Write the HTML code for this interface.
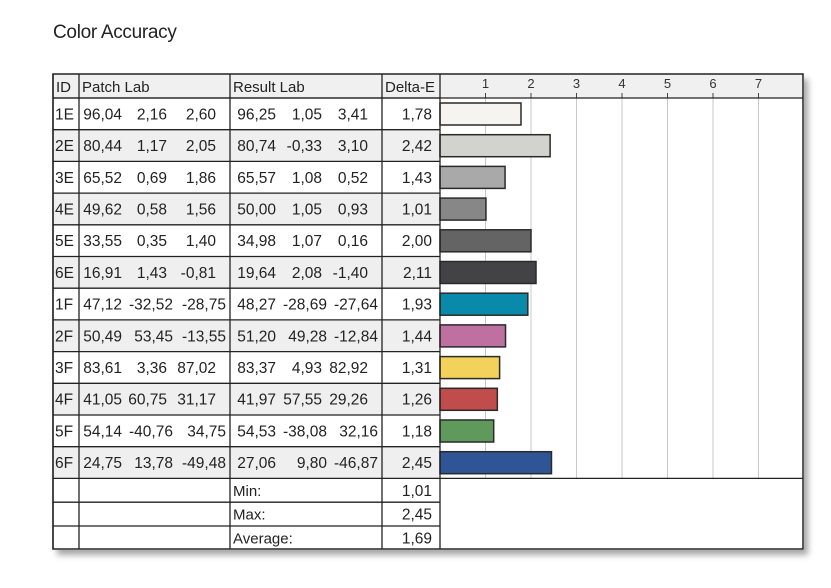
<!DOCTYPE html>
<html><head><meta charset="utf-8">
<style>
html,body{margin:0;padding:0;background:#fff;}
body{width:831px;height:588px;overflow:hidden;position:relative;font-family:"Liberation Sans",sans-serif;}
#title{position:absolute;left:53px;top:22px;font-size:19px;color:#222;letter-spacing:-0.3px;}
#wrap{position:absolute;left:53px;top:74px;width:751px;height:476px;box-shadow:4px 5px 6px rgba(0,0,0,0.35);}
svg{position:absolute;left:0;top:0;}
</style></head>
<body>
<div id="title">Color Accuracy</div>
<div id="wrap"></div>
<svg id="chart" width="831" height="588"></svg>
<script>
const ids = ["1E","2E","3E","4E","5E","6E","1F","2F","3F","4F","5F","6F"];
const patchLab = [["96,04","2,16","2,60"],["80,44","1,17","2,05"],["65,52","0,69","1,86"],["49,62","0,58","1,56"],["33,55","0,35","1,40"],["16,91","1,43","-0,81"],["47,12","-32,52","-28,75"],["50,49","53,45","-13,55"],["83,61","3,36","87,02"],["41,05","60,75","31,17"],["54,14","-40,76","34,75"],["24,75","13,78","-49,48"]];
const resultLab = [["96,25","1,05","3,41"],["80,74","-0,33","3,10"],["65,57","1,08","0,52"],["50,00","1,05","0,93"],["34,98","1,07","0,16"],["19,64","2,08","-1,40"],["48,27","-28,69","-27,64"],["51,20","49,28","-12,84"],["83,37","4,93","82,92"],["41,97","57,55","29,26"],["54,53","-38,08","32,16"],["27,06","9,80","-46,87"]];
const deltaE = [1.78,2.42,1.43,1.01,2.00,2.11,1.93,1.44,1.31,1.26,1.18,2.45];
const patchColors = ["#f6f4f1","#d2d2ce","#a9a9a9","#878787","#646464","#434244","#0a8aaa","#c070a0","#f2d25a","#c04c4c","#5f9a5c","#2f5597"];
const summaryLabels = ["Min:","Max:","Average:"];
const summaryValues = ["1,01","2,45","1,69"];
const ticks = [1,2,3,4,5,6,7];

const svg = document.getElementById('chart');
const NS = 'http://www.w3.org/2000/svg';
function mk(tag, attrs, parent){const e=document.createElementNS(NS,tag);for(const k in attrs)e.setAttribute(k,attrs[k]);(parent||svg).appendChild(e);return e;}
const L=53,R=803,T=74,HB=98,RH=31.7,SH=23.8;
const cols=[53,79,230,382,440];
const x0=440, ux=45.5;
function xs(v){return x0+v*ux;}
function rowTop(i){return HB+i*RH;}
const rowsBottom = rowTop(ids.length);
const fmt=v=>v.toFixed(2).replace('.',',');
const FF='Liberation Sans, sans-serif';

mk('rect',{x:L,y:T,width:R-L,height:549-T,fill:'#fff'});
const hb=mk('rect',{x:L,y:T,width:R-L,height:HB-T,fill:'#f0f0f0'});


ids.forEach((id,i)=>{ if(i%2===1){ mk('rect',{x:L,y:rowTop(i),width:x0-L,height:RH,fill:'#efefef'}); } });

ticks.forEach(t=>{
  const g=mk('line',{x1:xs(t),x2:xs(t),y1:HB,y2:rowsBottom,stroke:'#c8c8c8','stroke-width':1});
  
  
  mk('line',{x1:xs(t),x2:xs(t),y1:HB-5,y2:HB,stroke:'#444','stroke-width':1});
  const tx=mk('text',{x:xs(t),y:88,'font-size':13,'text-anchor':'middle',fill:'#333','font-family':FF});
  tx.textContent=t;
  
  
});

const heads=[["ID",56],["Patch Lab",82],["Result Lab",233],["Delta-E",385]];
heads.forEach(h=>{const t=mk('text',{x:h[1],y:92,'font-size':15,fill:'#222','font-family':FF});t.textContent=h[0];

});

const pEnds=[122,167,216], rEnds=[276,322,368];
ids.forEach((id,i)=>{
  const cy=rowTop(i)+RH/2+5.5;
  const wide = patchLab[i].concat(resultLab[i]).some(s=>s.length>5);
  const ft={'font-size':15.5,fill:'#222','font-family':FF};
  const idt=mk('text',Object.assign({x:55,y:cy},ft));idt.textContent=id;
  
  
  const wEnds = wide ? [122,173,226] : pEnds;
  const wr = wide ? [276,327,378] : rEnds;
  patchLab[i].forEach((s,k)=>{const t=mk('text',Object.assign({x:wEnds[k],y:cy,'text-anchor':'end'},ft));
    if(s.length>5)t.setAttribute('textLength',44);t.textContent=s;
    
    });
  resultLab[i].forEach((s,k)=>{const t=mk('text',Object.assign({x:wr[k],y:cy,'text-anchor':'end'},ft));
    if(s.length>5)t.setAttribute('textLength',44);t.textContent=s;
    
    });
  const d=mk('text',Object.assign({x:432,y:cy,'text-anchor':'end'},ft));d.textContent=fmt(deltaE[i]);
  
  
  const b=mk('rect',{x:x0,y:rowTop(i)+5,width:xs(deltaE[i])-x0,height:22,fill:patchColors[i],stroke:'#2a2a2a','stroke-width':1.5});
  
  
  mk('line',{x1:L,x2:x0,y1:rowTop(i),y2:rowTop(i),stroke:'#222','stroke-width':1.3});
});

summaryLabels.forEach((s,i)=>{
  const top=rowsBottom+i*SH, cy=top+SH/2+5.5;
  mk('line',{x1:L,x2:x0,y1:top,y2:top,stroke:'#222','stroke-width':1.3});
  const t=mk('text',{x:233,y:cy,'font-size':15,fill:'#222','font-family':FF});t.textContent=s;
  
  
  const v=mk('text',{x:432,y:cy,'font-size':15.5,fill:'#222','text-anchor':'end','font-family':FF});v.textContent=summaryValues[i];
  
  
});

cols.forEach(c=>mk('line',{x1:c,x2:c,y1:T,y2:549,stroke:'#222','stroke-width':1.3}));
mk('line',{x1:L,x2:R,y1:HB,y2:HB,stroke:'#222','stroke-width':1.3});
mk('line',{x1:x0,x2:R,y1:rowsBottom,y2:rowsBottom,stroke:'#222','stroke-width':1.3});
mk('rect',{x:L,y:T,width:R-L,height:549-T,fill:'none',stroke:'#222','stroke-width':1.5});
</script>
</body></html>
